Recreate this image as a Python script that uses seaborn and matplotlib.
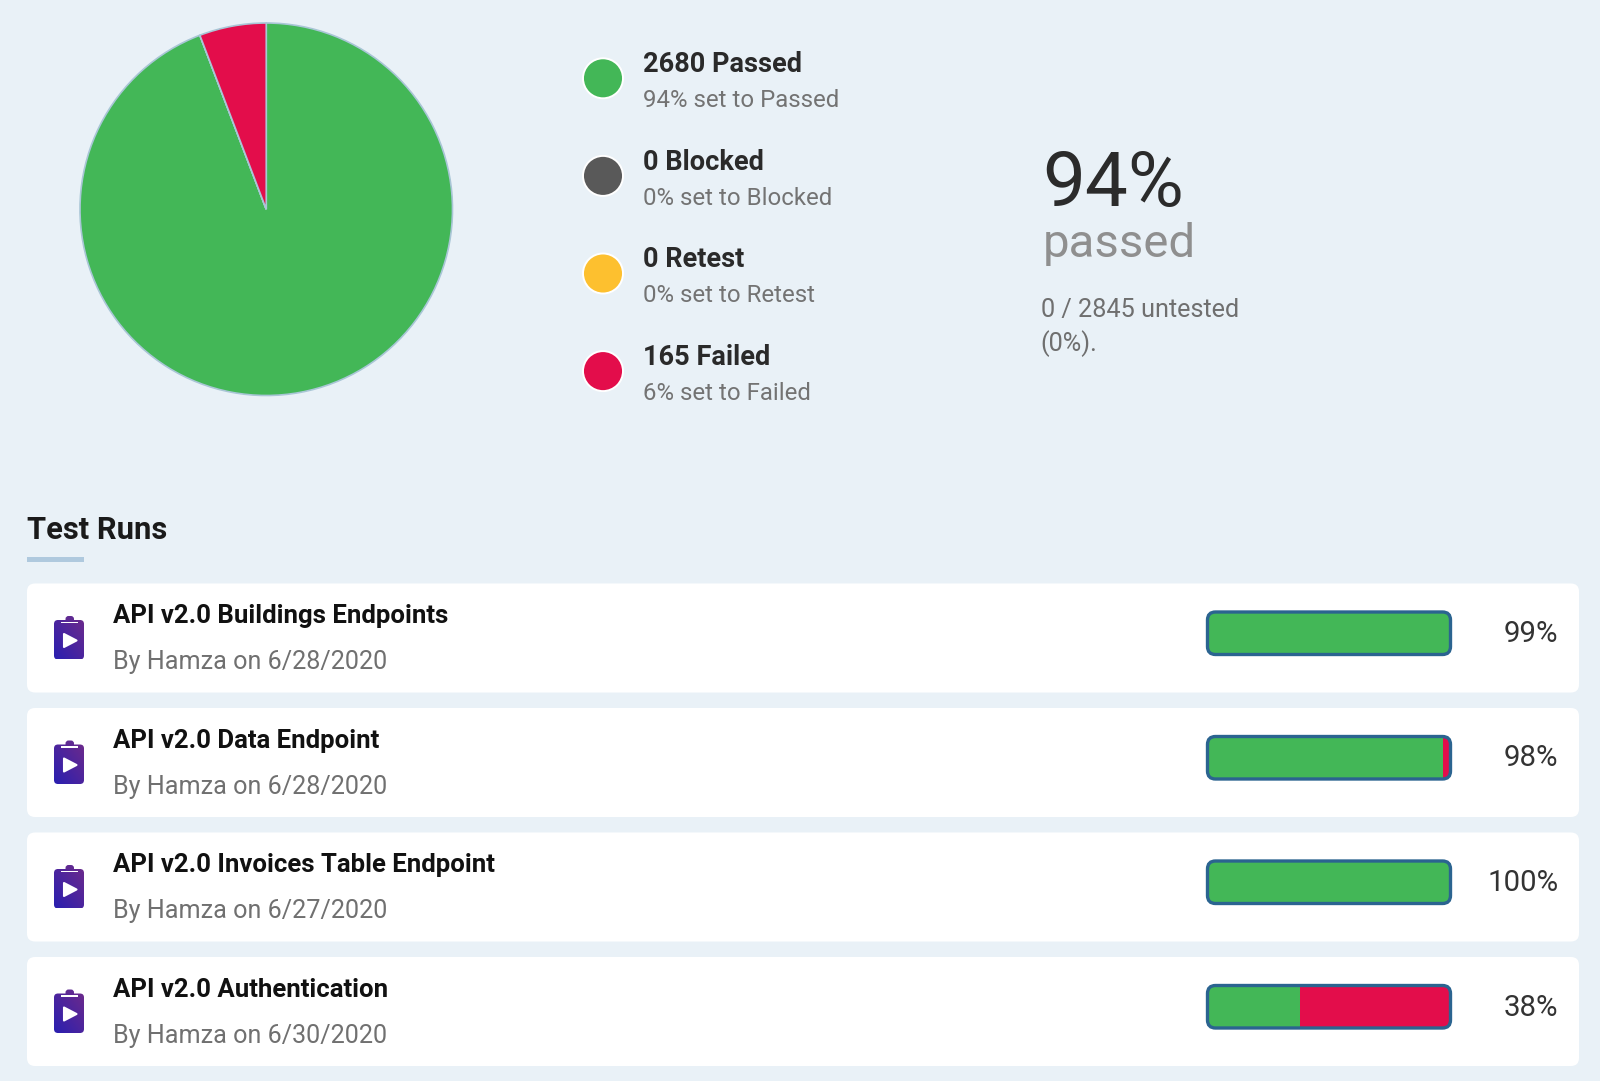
import numpy as np
import pandas as pd
import matplotlib
matplotlib.use("Agg")
import matplotlib.pyplot as plt
from matplotlib.patches import FancyBboxPatch, Circle, Polygon, Rectangle
import seaborn as sns

status_names = ["Passed", "Blocked", "Retest", "Failed"]
status_counts = [2680, 0, 0, 165]
status_pcts = [94, 0, 0, 6]
status_colors = ["#43b757", "#595959", "#fdc02f", "#e30d4b"]

run_names = ["API v2.0 Buildings Endpoints", "API v2.0 Data Endpoint",
             "API v2.0 Invoices Table Endpoint", "API v2.0 Authentication"]
run_dates = ["6/28/2020", "6/28/2020", "6/27/2020", "6/30/2020"]
run_labels = ["99%", "98%", "100%", "38%"]
run_passed = [100, 97.3, 100, 38]
run_total = [100, 100, 100, 100]

BG = "#e9f1f7"
FONT = "Roboto"
sns.set_theme(style="white")
plt.rcParams["font.family"] = [FONT, "DejaVu Sans"]

fig = plt.figure(figsize=(16, 10.81), dpi=100, facecolor=BG)
pix = fig.add_axes([0, 0, 1, 1], zorder=0)
pix.set_xlim(0, 1600)
pix.set_ylim(1081, 0)
pix.axis("off")

W, H = 1600, 1081
def px_axes(x0, y0, x1, y1, z):
    return fig.add_axes([x0 / W, 1 - y1 / H, (x1 - x0) / W, (y1 - y0) / H], zorder=z)

def txt(x, y, s, size, color, weight="normal", ha="left"):
    pix.text(x, y, s, fontsize=size, color=color, fontweight=weight, ha=ha, va="baseline")

# Pie
pie_ax = px_axes(80, 23, 452.5, 395.5, 1)
pie_ax.pie(status_counts, colors=status_colors, startangle=90, counterclock=False, radius=1.0,
           wedgeprops=dict(edgecolor="#a9c6d6", linewidth=1.2))
pie_ax.set_xlim(-1, 1)
pie_ax.set_ylim(-1, 1)

# Legend
for i, (name, cnt, pct, col) in enumerate(zip(status_names, status_counts, status_pcts, status_colors)):
    cy = 78.3 + i * 97.6
    pix.add_patch(Circle((603, cy), 20, facecolor=col, edgecolor="white", linewidth=1.4))
    txt(643, cy - 6.3, f"{cnt} {name}", 19.5, "#2a2a2a", "bold")
    txt(643, cy + 29, f"{pct}% set to {name}", 17.3, "#737373")

# Summary
txt(1042, 206, f"{status_pcts[0]}%", 55, "#2b2b2b", "normal")
txt(1043, 257, "passed", 34, "#8f8f8f")
txt(1041, 317, f"0 / {sum(status_counts)} untested", 18.2, "#6f6f6f")
txt(1040, 351, "(0%).", 18.2, "#6f6f6f")

# Header
txt(27, 539, "Test Runs", 22.2, "#1a1a1a", "bold")
pix.add_patch(Rectangle((27, 556.5), 57, 5.5, facecolor="#afc9de", edgecolor="none"))

PITCH = 124.5
CARD0 = 583.5
bar_ax = px_axes(1208, CARD0 + 49.7 - PITCH / 2, 1450, CARD0 + 49.7 - PITCH / 2 + 4 * PITCH, 2)
df = pd.DataFrame({"run": run_names, "total": run_total, "passed": run_passed})
sns.barplot(data=df, y="run", x="total", color=status_colors[3], saturation=1, width=0.33,
            linewidth=0, ax=bar_ax, zorder=1)
n_before = len(bar_ax.patches)
sns.barplot(data=df, y="run", x="passed", color=status_colors[0], saturation=1, width=0.33,
            linewidth=0, ax=bar_ax, zorder=2)
bar_ax.set_xlim(0, 100)
bar_ax.set_ylim(3.5, -0.5)
bar_ax.axis("off")
bar_ax.patch.set_alpha(0)

grad = np.linspace(0, 1, 40)[None, :] * 0.5 + np.linspace(1, 0, 40)[:, None] * 0.5
cmap = matplotlib.colors.LinearSegmentedColormap.from_list("ic", ["#2a1fb0", "#6b2a8c"])

for i, (name, date, lab) in enumerate(zip(run_names, run_dates, run_labels)):
    top = CARD0 + i * PITCH
    card = FancyBboxPatch((27, top), 1579 - 27, 109, boxstyle="round,pad=0,rounding_size=8",
                          facecolor="white", edgecolor="none")
    pix.add_patch(card)
    # text
    txt(113, top + 39.8, name, 18.55, "#111111", "bold")
    txt(113, top + 85.8, f"By Hamza on {date}", 18.05, "#707070")
    txt(1558.5, top + 58.5, lab, 21.2, "#333333", "normal", ha="right")
    # icon
    pix.add_patch(FancyBboxPatch((65.5, top + 32.5), 8.5, 8, boxstyle="round,pad=0,rounding_size=3",
                                 facecolor="#5f2a92", edgecolor="none", zorder=3))
    body = FancyBboxPatch((54, top + 36.5), 30, 39.5, boxstyle="round,pad=0,rounding_size=4",
                          facecolor="none", edgecolor="none", zorder=3)
    pix.add_patch(body)
    im = pix.imshow(grad, extent=(54, 84, top + 76, top + 36.5), cmap=cmap, aspect="auto", zorder=3)
    im.set_clip_path(body)
    pix.add_patch(Rectangle((60.5, top + 38), 17, 1.6, facecolor="white", edgecolor="none", zorder=4))
    pix.add_patch(Polygon([(64, top + 50.5), (76.5, top + 57), (64, top + 63.5)], closed=True,
                          facecolor="white", edgecolor="white", linewidth=1.5, joinstyle="round", zorder=4))
    # progress frame
    by = top + 28.5
    clip = FancyBboxPatch((1207.5, by), 243, 42.5, boxstyle="round,pad=0,rounding_size=8",
                          transform=pix.transData, facecolor="none", edgecolor="none")
    bar_ax.patches[i].set_clip_path(clip)
    bar_ax.patches[n_before + i].set_clip_path(clip)
    frame = FancyBboxPatch((1207.5, by), 243, 42.5, boxstyle="round,pad=0,rounding_size=8",
                           transform=pix.transData, facecolor="none", edgecolor="#2b6490",
                           linewidth=2.4, zorder=5, clip_on=False)
    bar_ax.add_patch(frame)

pix.set_xlim(0, 1600)
pix.set_ylim(1081, 0)
fig.savefig("out.png", dpi=100, facecolor=BG)
